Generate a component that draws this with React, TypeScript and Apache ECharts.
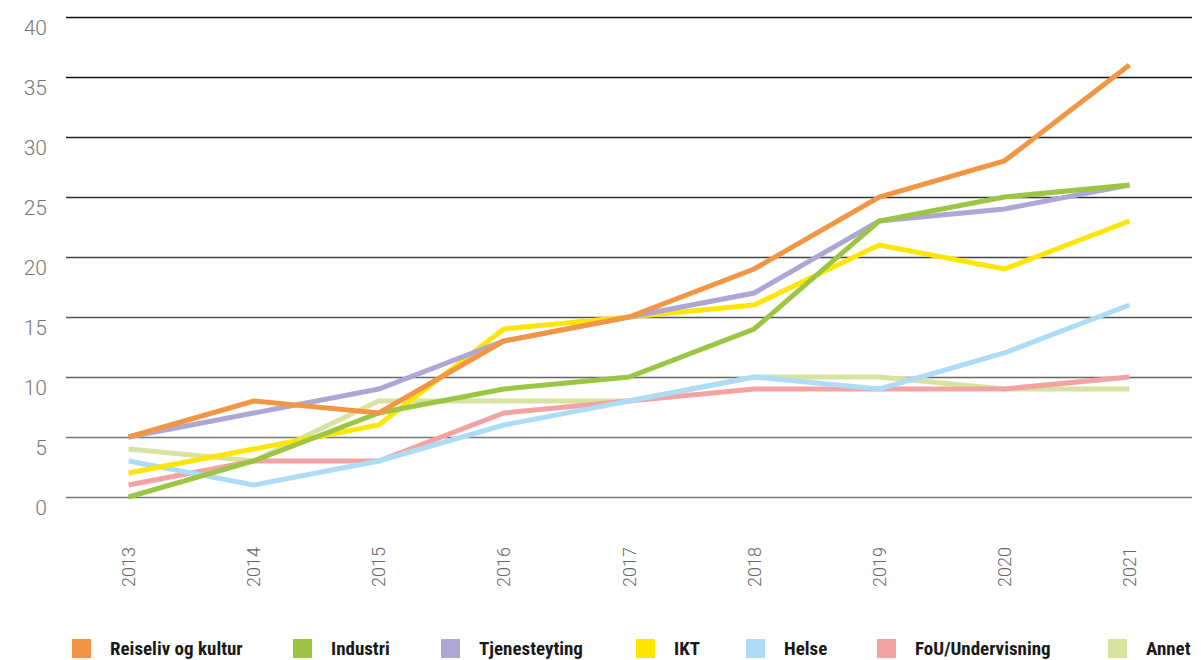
import React, { useEffect, useRef } from "react";
import * as echarts from "echarts";

const years = ["2013", "2014", "2015", "2016", "2017", "2018", "2019", "2020", "2021"];
const reiseliv = [5, 8, 7, 13, 15, 19, 25, 28, 36];
const industri = [0, 3, 7, 9, 10, 14, 23, 25, 26];
const tjenesteyting = [5, 7, 9, 13, 15, 17, 23, 24, 26];
const ikt = [2, 4, 6, 14, 15, 16, 21, 19, 23];
const helse = [3, 1, 3, 6, 8, 10, 9, 12, 16];
const fou = [1, 3, 3, 7, 8, 9, 9, 9, 10];
const annet = [4, 3, 8, 8, 8, 10, 10, 9, 9];

const seriesDefs = [
  { name: "Reiseliv og kultur", data: reiseliv, color: "#F39644" },
  { name: "Industri", data: industri, color: "#9DC544" },
  { name: "Tjenesteyting", data: tjenesteyting, color: "#ADA7D6" },
  { name: "IKT", data: ikt, color: "#FFE600" },
  { name: "Helse", data: helse, color: "#ADDCF7" },
  { name: "FoU/Undervisning", data: fou, color: "#F2A3A2" },
  { name: "Annet", data: annet, color: "#D6E3A1" },
];

const legendLefts = [72, 293, 441, 636, 746, 877, 1108];

export default function App() {
  const ref = useRef<HTMLDivElement>(null);
  useEffect(() => {
    if (!ref.current) return;
    const chart = echarts.init(ref.current, undefined, { renderer: "svg" });
    const drawOrder = [...seriesDefs].reverse();
    chart.setOption({
      animation: false,
      backgroundColor: "#ffffff",
      grid: { left: 66, right: 9, top: 17, bottom: 163, containLabel: false },
      legend: seriesDefs.map((s, i) => ({
        data: [s.name],
        left: legendLefts[i],
        top: 639,
        itemWidth: 19,
        itemHeight: 19,
        icon: "rect",
        padding: 0,
        textStyle: {
          fontFamily: "'Liberation Sans Narrow', 'Roboto Condensed', Roboto, sans-serif",
          fontWeight: "bold",
          fontSize: 19,
          color: "#1a1a1a",
          padding: [0, 0, 0, 14],
        },
      })),
      xAxis: {
        type: "category",
        data: years,
        boundaryGap: true,
        axisLine: { show: false },
        axisTick: { show: false },
        axisLabel: {
          rotate: 90,
          margin: 50,
          fontSize: 18,
          color: "#666",
          fontFamily: "Roboto, sans-serif",
          fontWeight: 300,
        },
      },
      yAxis: {
        type: "value",
        min: 0,
        max: 40,
        interval: 5,
        axisLine: { show: false },
        axisTick: { show: false },
        axisLabel: {
          margin: 19,
          fontSize: 21,
          color: "#777",
          verticalAlign: "top",
          fontFamily: "Roboto, sans-serif",
          fontWeight: 300,
        },
        splitLine: {
          lineStyle: {
            width: 1.3,
            color: ["#777", "#777", "#666", "#555", "#444", "#333", "#222", "#111", "#111"],
          },
        },
      },
      series: drawOrder.map((s) => ({
        name: s.name,
        type: "line",
        data: s.data,
        symbol: "none",
        lineStyle: { width: 5, color: s.color, cap: "butt", join: "miter" },
        itemStyle: { color: s.color },
      })),
    });
    return () => chart.dispose();
  }, []);
  return (
    <div
      ref={ref}
      style={{ position: "absolute", left: 0, top: 0, width: 1201, height: 660 }}
    />
  );
}
